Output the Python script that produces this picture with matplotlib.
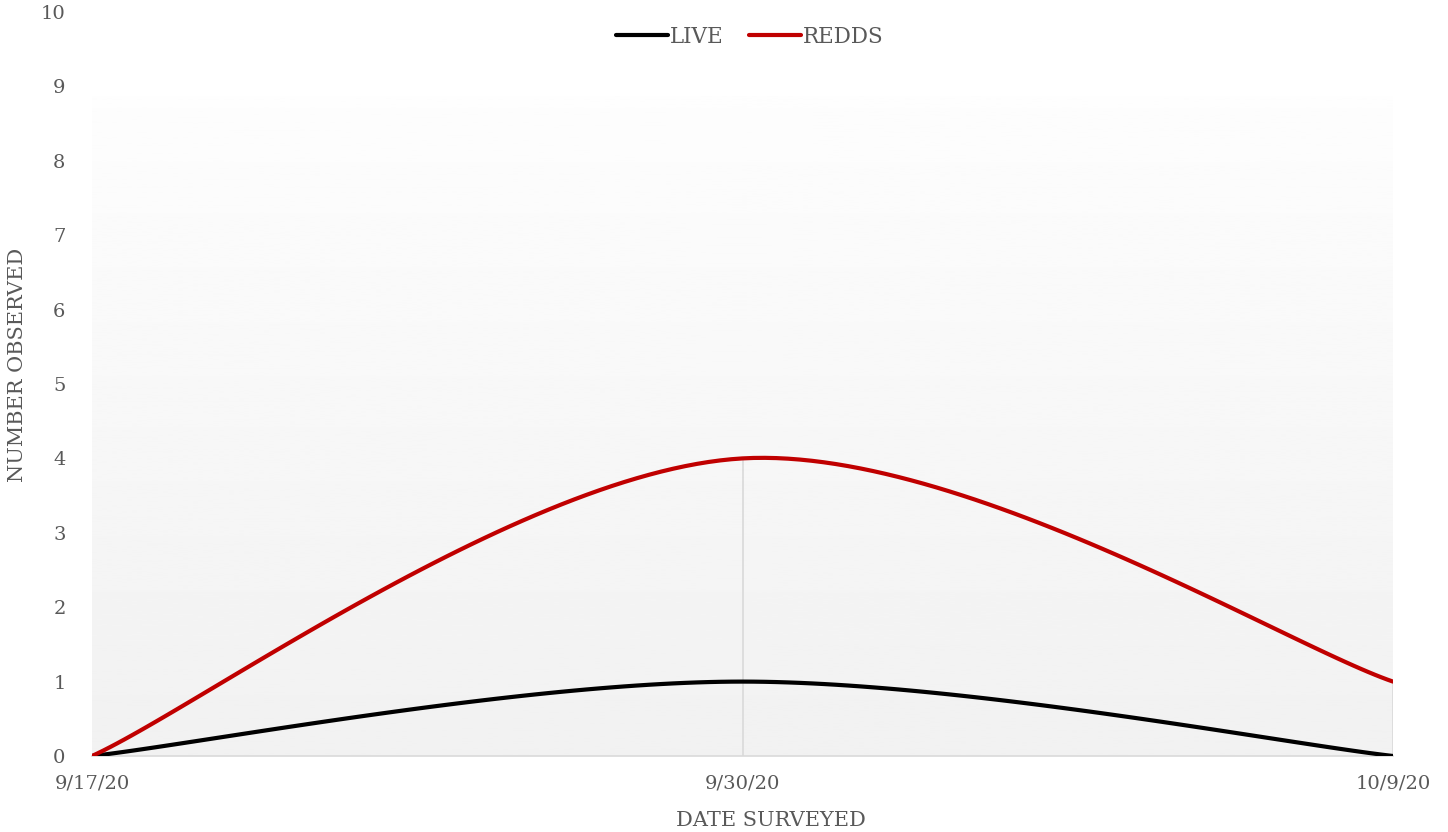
import matplotlib
matplotlib.use('Agg')
import matplotlib.pyplot as plt
import numpy as np

dates = ['9/17/20', '9/30/20', '10/9/20']
live = [0, 1, 0]
redds = [0, 4, 1]

plt.rcParams['font.family'] = ['DejaVu Serif']
TEXT = '#595959'


def excel_smooth(ys, n=60):
    # catmull-rom style bezier like excel's smoothed line
    xs = np.arange(len(ys), dtype=float)
    pts = np.column_stack([xs, np.asarray(ys, dtype=float)])
    padded = np.vstack([pts[0], pts, pts[-1]])
    t = np.linspace(0, 1, n)[:, None]
    out = []
    for i in range(len(pts) - 1):
        p0, p1, p2, p3 = padded[i], padded[i + 1], padded[i + 2], padded[i + 3]
        c1 = p1 + (p2 - p0) / 6
        c2 = p2 - (p3 - p1) / 6
        seg = ((1 - t) ** 3) * p1 + 3 * ((1 - t) ** 2) * t * c1 + 3 * (1 - t) * t ** 2 * c2 + t ** 3 * p2
        out.append(seg)
    out = np.vstack(out)
    return out[:, 0], out[:, 1]


fig = plt.figure(figsize=(14.48, 8.32), dpi=100)
ax = fig.add_axes([92 / 1448, 76 / 832, 1301 / 1448, 744 / 832])
ax.set_xlim(0, len(dates) - 1)
ax.set_ylim(0, 10)

# gradient plot area
grad = np.linspace(0.945, 0.993, 256)[:, None]
ax.imshow(grad, cmap='gray', vmin=0, vmax=1, aspect='auto', origin='lower',
          extent=(0, 1, 0, 0.886), transform=ax.transAxes, zorder=0)

# drop lines
xs = np.arange(len(dates))
tops = np.maximum(live, redds)
ax.vlines(xs[1:], 0, tops[1:], color='#d9d9d9', lw=1.2, zorder=1)

x, y = excel_smooth(live)
ax.plot(x, y, color='black', lw=3.0, label='LIVE', zorder=3, solid_capstyle='round')
x, y = excel_smooth(redds)
ax.plot(x, y, color='#c00000', lw=3.0, label='REDDS', zorder=3, solid_capstyle='round')

for s in ['top', 'right', 'left']:
    ax.spines[s].set_visible(False)
ax.spines['bottom'].set_color('#d9d9d9')
ax.spines['bottom'].set_linewidth(1.2)
ax.spines['bottom'].set_zorder(2)

ax.set_xticks(xs)
ax.set_xticklabels(dates)
ax.set_yticks(range(0, 11))
ax.tick_params(axis='both', length=0, labelsize=14, colors=TEXT)
ax.tick_params(axis='y', pad=19)
ax.tick_params(axis='x', pad=13)

fig.text(771 / 1448, 1 - 820 / 832, 'DATE SURVEYED', ha='center', va='center',
         fontsize=15, color=TEXT)
fig.text(18 / 1448, 1 - 365 / 832, 'NUMBER OBSERVED', ha='center', va='center',
         rotation=90, fontsize=15, color=TEXT)

leg = fig.legend(loc='center', bbox_to_anchor=(750 / 1448, 1 - 37 / 832), ncol=2,
                 frameon=False, fontsize=15.5, handlelength=2.4, handletextpad=0.1,
                 columnspacing=1.2)
for t in leg.get_texts():
    t.set_color(TEXT)

fig.savefig('out.png', dpi=100)
